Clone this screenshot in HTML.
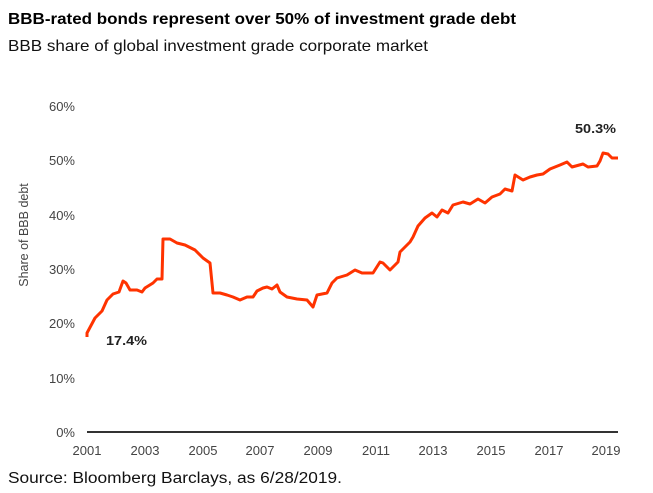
<!DOCTYPE html>
<html><head><style>
body{margin:0;background:#fff;width:653px;height:488px;overflow:hidden;font-family:"Liberation Sans",sans-serif;}
</style></head><body>
<svg width="653" height="488" xmlns="http://www.w3.org/2000/svg" font-family="Liberation Sans, sans-serif">
<text x="8" y="24" font-size="16" font-weight="bold" fill="#000" textLength="508" lengthAdjust="spacingAndGlyphs">BBB-rated bonds represent over 50% of investment grade debt</text>
<text x="8" y="51" font-size="16" fill="#111" textLength="420" lengthAdjust="spacingAndGlyphs">BBB share of global investment grade corporate market</text>
<g font-size="13" fill="#444" text-anchor="end">
<text x="75" y="111">60%</text><text x="75" y="165">50%</text><text x="75" y="220">40%</text>
<text x="75" y="274">30%</text><text x="75" y="328">20%</text><text x="75" y="383">10%</text><text x="75" y="437">0%</text>
</g>
<text transform="translate(28,235) rotate(-90)" font-size="12.5" fill="#444" text-anchor="middle">Share of BBB debt</text>
<line x1="87" y1="432" x2="618" y2="432" stroke="#333" stroke-width="2"/>
<g font-size="13" fill="#444" text-anchor="middle">
<text x="87" y="455">2001</text><text x="145" y="455">2003</text><text x="203" y="455">2005</text>
<text x="260" y="455">2007</text><text x="318" y="455">2009</text><text x="376" y="455">2011</text>
<text x="433" y="455">2013</text><text x="491" y="455">2015</text><text x="549" y="455">2017</text><text x="606" y="455">2019</text>
</g>
<polyline fill="none" stroke="#ff3300" stroke-width="3" stroke-linejoin="round" points="87,337 87,333 95,318 102,311 107,300 113,294 119,292 123,281 126,283 130,290 137,290 142,292 145,288 153,283 157,279 162,279 163,239 170,239 177,243 185,245 195,250 203,258 210,263 211,273 213,293 220,293 227,295 233,297 240,300 247,297 253,297 257,291 263,288 267,287 272,289 277,285 280,292 287,297 297,299 307,300 313,307 317,295 327,293 332,283 337,278 347,275 355,270 362,273 373,273 380,262 383,263 390,270 398,262 400,252 410,242 413,237 418,226 425,218 432,213 437,217 442,210 448,213 453,205 463,202 470,204 478,199 485,203 492,197 500,194 505,189 512,191 515,175 523,180 530,177 537,175 543,174 550,169 560,165 567,162 572,167 583,164 588,167 597,166 600,161 603,153 608,154 612,158 618,158"/>
<text x="575" y="133" font-size="12.5" font-weight="bold" fill="#222" textLength="41" lengthAdjust="spacingAndGlyphs">50.3%</text>
<text x="106" y="345" font-size="12.5" font-weight="bold" fill="#222" textLength="41" lengthAdjust="spacingAndGlyphs">17.4%</text>
<text x="8" y="483" font-size="15.5" fill="#111" textLength="334" lengthAdjust="spacingAndGlyphs">Source: Bloomberg Barclays, as 6/28/2019.</text>
</svg>
</body></html>
